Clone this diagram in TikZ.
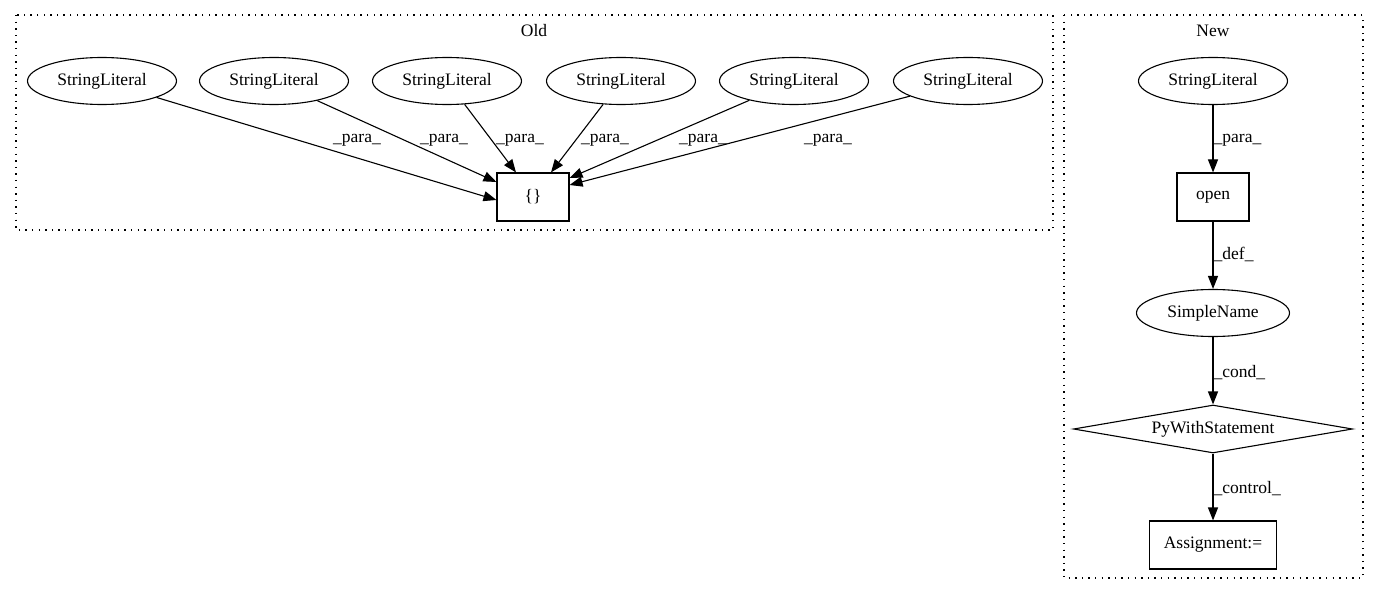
\documentclass[tikz,border=0pt]{standalone}
\usepackage{fontspec}
\setmainfont{Liberation Serif}
\usetikzlibrary{shapes.geometric,arrows.meta}
\tikzset{
  base/.style={font=\fontsize{17.5}{20}\selectfont},
  lit/.style={base,draw,line width=1.1pt,ellipse,minimum width=149pt,minimum height=47pt,inner sep=0pt},
  rbox/.style={base,draw,line width=1.1pt,rectangle,minimum height=48pt,inner sep=0pt},
  dia/.style={base,draw,line width=1.1pt,diamond,minimum width=279pt,minimum height=48pt,inner sep=0pt,aspect=5.8},
  cluster/.style={draw,line width=1.1pt,dash pattern=on 1.4pt off 5.2pt},
  elbl/.style={base,inner sep=0pt},
  edge/.style={line width=1.1pt,-{Triangle[length=13pt,width=10pt]}}
}
\begin{document}
\begin{tikzpicture}[x=1pt,y=-1pt]
\useasboundingbox (0,0) rectangle (1379,596);
% clusters
\draw[cluster] (16,15) rectangle (1053,230);
\node[base,anchor=base] (oldlbl) at (534,37) {Old};
\draw[cluster] (1064,15) rectangle (1363,578);
\node[base,anchor=base] (newlbl) at (1213,37) {New};
% Old nodes
\node[lit] (e1) at (102,81) {StringLiteral};
\node[lit] (e2) at (274,81) {StringLiteral};
\node[lit] (e3) at (447,81) {StringLiteral};
\node[lit] (e4) at (621,81) {StringLiteral};
\node[lit] (e5) at (794,81) {StringLiteral};
\node[lit] (e6) at (968,81) {StringLiteral};
\node[rbox,minimum width=72pt] (br) at (533,197) {\{\}};
% Old edges
\draw[edge] (e1) -- ([yshift=-3pt]br.west);
\draw[edge] (e2) -- ([yshift=15pt]br.west);
\draw[edge] (e3) -- ([xshift=-17pt]br.north);
\draw[edge] (e4) -- ([xshift=18pt]br.north);
\draw[edge] (e5) -- ([yshift=19pt]br.east);
\draw[edge] (e6) -- ([yshift=12pt]br.east);
\node[elbl,anchor=base] (l1) at (357,143) {\_para\_};
\node[elbl,anchor=base] (l2) at (444,143) {\_para\_};
\node[elbl,anchor=base] (l3) at (520,143) {\_para\_};
\node[elbl,anchor=base] (l4) at (605,143) {\_para\_};
\node[elbl,anchor=base] (l5) at (703,143) {\_para\_};
\node[elbl,anchor=base] (l6) at (828,143) {\_para\_};
% New nodes
\node[lit] (ns) at (1213,81) {StringLiteral};
\node[rbox,minimum width=72pt] (op) at (1213,197) {open};
\node[lit,minimum width=153pt] (sn) at (1213,313) {SimpleName};
\node[dia] (pw) at (1213,429) {PyWithStatement};
\node[rbox,minimum width=127pt] (as) at (1213,545) {Assignment:=};
% New edges
\draw[edge] (ns) -- (op);
\draw[edge] (op) -- (sn);
\draw[edge] (sn) -- (pw);
\draw[edge] (pw) -- (as);
\node[elbl,anchor=base west] (m1) at (1213.5,143) {\_para\_};
\node[elbl,anchor=base west] (m2) at (1213.5,260) {\_def\_};
\node[elbl,anchor=base west] (m3) at (1213.5,377) {\_cond\_};
\node[elbl,anchor=base west] (m4) at (1213.5,493) {\_control\_};
\end{tikzpicture}
\end{document}
